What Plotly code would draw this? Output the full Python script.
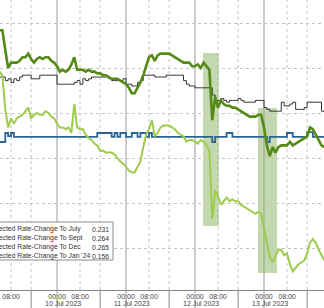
import pandas as pd
import plotly.graph_objects as go

FONT = "Liberation Sans"

# hourly timestamps (business days only)
times = pd.date_range("2023-07-07 04:00", "2023-07-13 21:00", freq="h")
times = times[times.dayofweek < 5]

dec_vals = [
    0.296,0.296,0.285,0.275,0.278,0.278,0.278,0.279,0.281,0.281,0.283,0.280,0.278,0.280,0.281,0.280,0.281,0.281,0.279,0.278,
    0.276,0.273,0.274,0.273,0.274,0.277,0.281,0.274,0.274,0.274,0.273,0.274,0.273,0.273,0.272,0.272,0.271,0.271,0.270,0.269,0.269,0.269,0.268,0.267,
    0.266,0.264,0.261,0.261,0.264,0.267,0.271,0.276,0.281,0.282,0.279,0.282,0.283,0.283,0.283,0.283,0.282,0.281,0.280,0.279,0.278,0.278,0.278,0.276,
    0.276,0.277,0.275,0.278,0.276,0.274,0.246,0.259,0.253,0.257,0.255,0.254,0.254,0.253,0.253,0.252,0.251,0.250,0.249,0.248,0.248,0.248,0.249,0.249,
    0.242,0.232,0.226,0.231,0.228,0.231,0.232,0.232,0.232,0.234,0.232,0.233,0.234,0.235,0.236,0.237,0.242,0.241,0.238,0.235,0.232,0.231,
]
sept_vals = [
    0.270,0.270,0.268,0.269,0.267,0.269,0.268,0.270,0.271,0.271,0.271,0.269,0.269,0.269,0.271,0.271,0.271,0.271,0.271,0.271,
    0.266,0.266,0.266,0.266,0.266,0.266,0.267,0.268,0.266,0.269,0.268,0.269,0.270,0.270,0.270,0.270,0.270,0.270,0.269,0.268,0.268,0.268,0.268,0.269,
    0.266,0.266,0.265,0.265,0.267,0.268,0.271,0.271,0.271,0.271,0.270,0.270,0.270,0.270,0.271,0.271,0.271,0.271,0.271,0.271,0.268,0.266,0.265,0.265,
    0.264,0.264,0.264,0.264,0.264,0.264,0.260,0.257,0.257,0.258,0.257,0.256,0.257,0.257,0.257,0.258,0.257,0.256,0.256,0.256,0.256,0.257,0.257,0.257,
    0.253,0.252,0.251,0.251,0.251,0.251,0.256,0.254,0.254,0.255,0.256,0.252,0.252,0.252,0.253,0.256,0.256,0.256,0.256,0.256,0.251,0.251,
]
july_vals = (
    [0.2339,0.2339,0.2389,0.2372,0.2389] + [0.2367]*15
    + [0.2367]*14 + [0.2389]*5 + [0.2367,0.2389,0.2367,0.2389,0.2389]
    + [0.2367,0.2367,0.2389,0.2389,0.2367,0.2389,0.2389,0.2367,0.2389] + [0.2367]*15
    + [0.2367]*6 + [0.2339] + [0.2367]*4 + [0.2389,0.2389] + [0.2367]*11
    + [0.2367,0.2339] + [0.2367]*6 + [0.2389,0.2389] + [0.2367]*5 + [0.2394,0.2394] + [0.2367]*5
)
jan_vals = [
    0.273,0.271,0.252,0.242,0.247,0.244,0.247,0.248,0.249,0.251,0.253,0.247,0.249,0.250,0.249,0.249,0.251,0.250,0.248,0.247,
    0.244,0.242,0.242,0.241,0.242,0.239,0.255,0.242,0.241,0.241,0.238,0.236,0.235,0.233,0.232,0.229,0.229,0.228,0.228,0.228,0.227,0.225,0.223,0.222,
    0.220,0.218,0.217,0.217,0.220,0.223,0.231,0.238,0.241,0.246,0.237,0.239,0.242,0.243,0.243,0.243,0.242,0.241,0.239,0.238,0.237,0.234,0.235,0.235,
    0.234,0.233,0.235,0.234,0.232,0.229,0.191,0.207,0.204,0.199,0.201,0.203,0.201,0.202,0.201,0.201,0.199,0.198,0.197,0.196,0.195,0.194,0.195,0.194,
    0.186,0.177,0.170,0.167,0.171,0.174,0.174,0.171,0.172,0.166,0.162,0.164,0.166,0.167,0.168,0.172,0.178,0.180,0.178,0.174,0.171,0.168,
]

legend_labels = ["Expected Rate-Change To July", "Expected Rate-Change To Sept",
                 "Expected Rate-Change To Dec", "Expected Rate-Change To Jan '24"]
legend_values = ["0.231", "0.264", "0.265", "0.156"]

# highlighted event windows
event_start = ["2023-07-12 02:48", "2023-07-12 21:54"]
event_end = ["2023-07-12 08:17", "2023-07-13 04:30"]
event_low = [0.1872, 0.1611]
event_high = [0.2833, 0.2528]

# axis labelling
tick_times = ["2023-07-07 08:00", "2023-07-10 00:00", "2023-07-10 08:00", "2023-07-11 00:00",
              "2023-07-11 08:00", "2023-07-12 00:00", "2023-07-12 08:00", "2023-07-13 00:00",
              "2023-07-13 08:00"]
tick_text = ["08:00", "00:00", "08:00", "00:00", "08:00", "00:00", "08:00", "00:00", "08:00"]
day_label_times = ["2023-07-07 02:15", "2023-07-10 02:15", "2023-07-11 02:15",
                   "2023-07-12 02:15", "2023-07-13 02:15"]
day_labels = ["7 Jul 2023", "10 Jul 2023", "11 Jul 2023", "12 Jul 2023", "13 Jul 2023"]
day_starts = ["2023-07-10 00:00", "2023-07-11 00:00", "2023-07-12 00:00", "2023-07-13 00:00"]
morning_lines = ["2023-07-07 08:00", "2023-07-10 08:00", "2023-07-11 08:00",
                 "2023-07-12 08:00", "2023-07-13 08:00"]
afternoon_lines = ["2023-07-07 15:00", "2023-07-10 15:00", "2023-07-11 15:00",
                   "2023-07-12 15:00", "2023-07-13 15:00"]

fig = go.Figure()
fig.add_trace(go.Scatter(x=times, y=july_vals, mode="lines", line=dict(color="#2d6391", width=1.8, shape="hv"),
                         name=legend_labels[0]))
fig.add_trace(go.Scatter(x=times, y=sept_vals, mode="lines", line=dict(color="#333333", width=1, shape="hv"),
                         name=legend_labels[1]))
fig.add_trace(go.Scatter(x=times, y=jan_vals, mode="lines", line=dict(color="#9dcc4c", width=2),
                         name=legend_labels[3]))
fig.add_trace(go.Scatter(x=times, y=dec_vals, mode="lines", line=dict(color="#568a17", width=2.6),
                         name=legend_labels[2]))

shapes = []
for s, e, lo, hi in zip(event_start, event_end, event_low, event_high):
    shapes.append(dict(type="rect", xref="x", yref="y", x0=s, x1=e, y0=lo, y1=hi,
                       fillcolor="rgba(135,178,95,0.5)", line=dict(width=0), layer="below"))
for d in day_starts:
    shapes.append(dict(type="line", xref="x", yref="paper", x0=d, x1=d, y0=-0.065, y1=1,
                       line=dict(color="#9a9a9a", width=1), layer="below"))
for d in morning_lines:
    shapes.append(dict(type="line", xref="x", yref="paper", x0=d, x1=d, y0=0, y1=1,
                       line=dict(color="#c4c4c4", width=1, dash="dot"), layer="below"))
for d in afternoon_lines:
    shapes.append(dict(type="line", xref="x", yref="paper", x0=d, x1=d, y0=0, y1=1,
                       line=dict(color="#c4c4c4", width=1, dash="dot"), layer="below"))
    shapes.append(dict(type="line", xref="x", yref="paper", x0=d, x1=d, y0=-0.065, y1=0,
                       line=dict(color="#888888", width=1), layer="above"))
# legend box
shapes.append(dict(type="rect", xref="paper", yref="paper", x0=-0.08, x1=113 / 324,
                   y0=(290 - 260) / 290, y1=(290 - 222) / 290,
                   fillcolor="white", line=dict(color="#8a8a8a", width=1), layer="above"))

annotations = []
for t, lab in zip(day_label_times, day_labels):
    annotations.append(dict(x=t, xref="x", y=-0.047, yref="paper", text=lab, showarrow=False,
                            xanchor="center", yanchor="middle",
                            font=dict(family=FONT, size=7, color="#444444")))
annotations.append(dict(x=-15 / 324, xref="paper", y=(290 - 242.75) / 290, yref="paper",
                        text="<br>".join(legend_labels), showarrow=False, align="left",
                        xanchor="left", yanchor="middle",
                        font=dict(family=FONT, size=6.8, color="#333333")))
annotations.append(dict(x=110.5 / 324, xref="paper", y=(290 - 242.75) / 290, yref="paper",
                        text="<br>".join(legend_values), showarrow=False, align="right",
                        xanchor="right", yanchor="middle",
                        font=dict(family=FONT, size=6.8, color="#333333")))

fig.update_layout(
    width=324, height=308,
    margin=dict(l=0, r=0, t=0, b=18, pad=0),
    paper_bgcolor="white", plot_bgcolor="white",
    showlegend=False,
    shapes=shapes, annotations=annotations,
)
fig.update_xaxes(
    type="date", range=["2023-07-07 04:10", "2023-07-13 20:52"],
    rangebreaks=[dict(bounds=["sat", "mon"])],
    tickmode="array", tickvals=tick_times, ticktext=tick_text, ticks="",
    showgrid=False, zeroline=False, showline=True, linecolor="#888888", linewidth=1,
    tickfont=dict(family=FONT, size=7, color="#444444"),
)
fig.update_yaxes(
    range=[0.15167, 0.31278], tick0=0, dtick=0.025, showticklabels=False, ticks="",
    showgrid=True, gridcolor="#c4c4c4", griddash="dot", gridwidth=1, zeroline=False,
)

fig.write_html("out.html")
